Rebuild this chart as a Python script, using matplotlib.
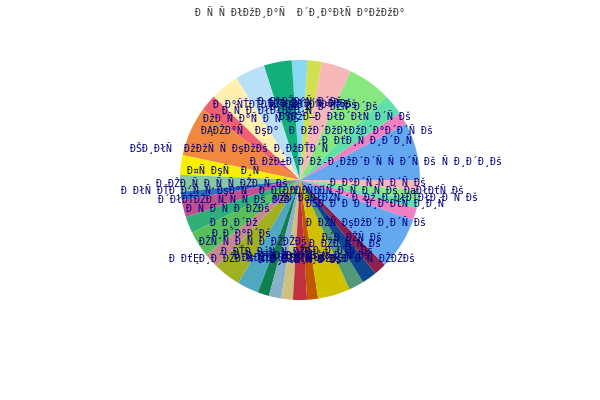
import matplotlib
matplotlib.use("Agg")
import matplotlib.pyplot as plt

title = "Ð Ñ Ñ ÐłÐžÐ¸Ð°Ñ  Ð´Ð¸Ð°ÐłÑ Ð°ÐžÐžÐ°"

# slice shares (degrees of the circle), counter-clockwise from 3 o'clock
shares = [28, 6, 10, 21, 14.5, 7, 7.5, 13.5, 14.5, 14, 8, 24, 9.5, 8.2, 4,
          8.3, 8, 12.7, 7.3, 13, 10.5, 5.5, 6, 5.6, 6.8, 5.3, 15.7, 7.3, 7.3,
          6, 25.5, 6, 3.6, 4.9, 5]

labels = [
    "Ð ÐžÐ±Ð´Ð´Ðž-Ð¸ÐžÐ´Ð´Ñ Ñ Ð´Ñ Ðš Ñ Ð¸Ð´Ð¸Ðš",
    "Ð ÐťÐ¸Ñ Ð¸Ð´Ð¸Ñ",
    "Ð ÐžÐ´ÐžÐłÐžÐ´Ð°Ð´Ð´Ñ Ðš",
    "ÐŠÐžÐ–Ð ÐłÐ´ÐłÑ Ð´Ñ Ðš",
    "Ð ÐŽÐ¸Ð´Ð°ÐŽÑ Ð´Ðš",
    "ÐŽÐ¸ÐłÐ´Ñ Ð°Ðš",
    "Ð ÐłÐŽÐ°Ñ Ð´Ðš",
    "Ð Ð°ÑŤÐŤÐŤÐ´ÐŽÐ¸Ð´Ð´Ñ Ðš",
    "Ð¸Ñ Ð¸ÐłÐłÐŽÐ¸Ñ",
    "ÐžÐ´Ñ Ð°Ñ Ð Ñ ÐŠ",
    "ÐĄÐŽÐ°Ñ  ÐşÐ°",
    "ÐŠÐ¸ÐłÑ  ÐžÐžÑ Ñ ÐşÐžÐš Ð¸ÐžÐŤÐ´Ñ",
    "Ð¤Ñ ÐşÑ  Ð¸Ñ",
    "Ð ÐŽÐ¸Ñ Ð¸Ñ Ñ ÐŽÐ¸Ñ Ðš",
    "Ð ÐłÑ ÐŤÐ¸Ð´Ñ Ñ ÐşÐ°Ñ  Ð´ÐŤÐ°Ð´Ñ Ð",
    "Ð´ÐłÐŤÐŽÐ¸Ñ Ñ Ñ Ðš ÐŽÐ",
    "Ð Ñ Ð Ñ Ð ÐŽÐš",
    "Ð Ð¸Ð´Ðž",
    "Ð¸Ð´Ð°Ð´Ðś",
    "ÐŽÑ Ñ Ð Ñ Ð ÐŽÐŽÐš",
    "Ð ÐŤÐ¸Ð´Ñ Ñ ÐŽÐ",
    "Ð¸Ð ÐŤÑ Ð Ñ Ðš",
    "ÐsÐŽÐ Ð´Ð¸Ñ Ðš",
    "Ð ÐťĘÐ¸Ð´ÐŽÐ´Ñ Ñ Ð¸Ð´Ð¸Ñ ÐŽÐ´Ð°Ð´Ñ ÐŽÐŽÐš",
    "ÐŤÐ¸ÐłÐ´Ñ Ð°Ðš",
    "Ð ÐŽÐłÐ¸Ñ ÐşÐ",
    "ÐŽÐ¸Ð´Ð´Ñ Ð Ñ Ðš",
    "ÐŠÐ¸Ð ÐŤÑ Ðš",
    "Ð ÐŽÐ´Ñ Ñ Ðš",
    "Ð´Ð ÐŽÑ Ðš",
    "Ð ÐŽÑ ÐşÐžÐ´Ð¸Ð´Ñ Ðš",
    "ÐŠÐ Ð´Ð Ð´Ð¸Ð°ÐťÑ Ð¸Ð¸Ñ",
    "ÐŽÐ´ÐaÐłÐŽÑ  Ð Ðž-Ð¸ÐłÐŤÐłÐ¸Ð´Ñ Ðš",
    "Ð¸Ð Ð´Ñ Ð¸Ñ Ð´Ñ Ðš ÐaÐłÐťÑ Ðš",
    "Ð Ð°Ð´Ñ Ñ Ð´Ñ Ðš",
]

palette = ["#64a8f0", "#f080c0", "#60e0a8", "#88e880", "#f8b8b8", "#d0e050",
           "#88d8f0", "#10b078", "#b8e0f8", "#fff0b0", "#f06070", "#f08840",
           "#f8f000", "#88c8a0", "#3070c0", "#c05090", "#30b078", "#58c058",
           "#c88890", "#a0b020", "#50a8c0", "#108050", "#88b0c8", "#d0c080",
           "#c03040", "#c05800", "#d0c000", "#509878", "#104890", "#902050"]
colors = [palette[i % len(palette)] for i in range(len(shares))]

fig = plt.figure(figsize=(6, 4), dpi=100)
ax = fig.add_axes([0, 0, 1, 1])
wedges, texts = ax.pie(shares, labels=labels, colors=colors, startangle=0,
                       counterclock=True, radius=1, labeldistance=0.65,
                       wedgeprops=dict(linewidth=0),
                       textprops=dict(family="DejaVu Sans Mono", fontsize=7.2,
                                      color="#000080"))
for t in texts:
    t.set_ha("center")
    t.set_va("center")
ax.set_aspect("auto")
ax.set_xlim(-2.5, 2.5)
ax.set_ylim(-1.8333, 1.5)
ax.axis("off")

fig.text(0.5, 1 - 12 / 400, title, ha="center", va="center",
         family="DejaVu Sans Mono", fontsize=7.2, color="#333333")

fig.savefig("out.png", dpi=100)
